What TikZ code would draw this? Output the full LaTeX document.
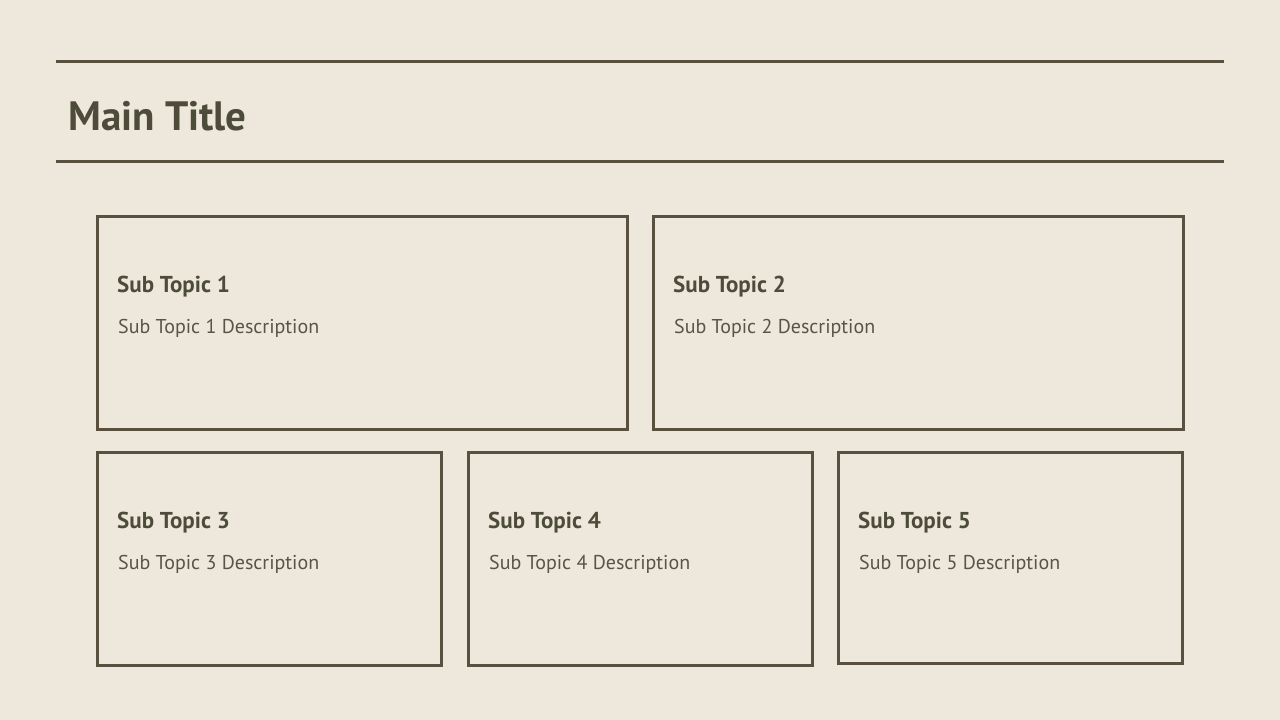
\documentclass[tikz,border=0pt]{standalone}
\usepackage{fontspec}
\setmainfont{PT Sans}
\definecolor{paper}{HTML}{EEE8DC}
\definecolor{ink}{HTML}{595040}
\definecolor{heading}{HTML}{4D4B3A}
\definecolor{bodytext}{HTML}{5A5446}
\begin{document}
\begin{tikzpicture}[
    x=1pt, y=1pt,
    rule/.style={draw=ink, line width=3pt},
    topic_box/.style={rectangle, draw=ink, line width=3pt, inner sep=0pt},
    main_title/.style={anchor=base west, inner sep=0pt, text=heading, font=\fontsize{41}{48}\selectfont\bfseries},
    topic_title/.style={anchor=base west, inner sep=0pt, text=heading, font=\fontsize{23}{28}\selectfont\bfseries},
    topic_desc/.style={anchor=base west, inner sep=0pt, text=bodytext, font=\fontsize{20}{24}\selectfont}
]
\fill[paper] (0,0) rectangle (1280,720);
\useasboundingbox (0,0) rectangle (1280,720);
% header rules and title
\coordinate (rule_top_l) at (56,658);
\coordinate (rule_top_r) at (1224,658);
\coordinate (rule_bot_l) at (56,558);
\coordinate (rule_bot_r) at (1224,558);
\draw[rule] (rule_top_l) -- (rule_top_r);
\draw[rule] (rule_bot_l) -- (rule_bot_r);
\node[main_title] (title) at (68,589) {Main Title};
% topic boxes
\node[topic_box, minimum width=530, minimum height=213] (box1) at (362.5,396.5) {};
\node[topic_box, minimum width=530, minimum height=213] (box2) at (918.5,396.5) {};
\node[topic_box, minimum width=344, minimum height=213] (box3) at (269.5,160.5) {};
\node[topic_box, minimum width=344, minimum height=213] (box4) at (640.5,160.5) {};
\node[topic_box, minimum width=344, minimum height=211] (box5) at (1010.5,161.5) {};
% topic texts
\foreach \i in {1,...,5} {
    \node[topic_title] (title\i) at ([shift={(21,-77)}]box\i.north west) {Sub Topic \i};
    \node[topic_desc] (desc\i) at ([shift={(22,-118)}]box\i.north west) {Sub Topic \i{} Description};
}
\end{tikzpicture}
\end{document}
